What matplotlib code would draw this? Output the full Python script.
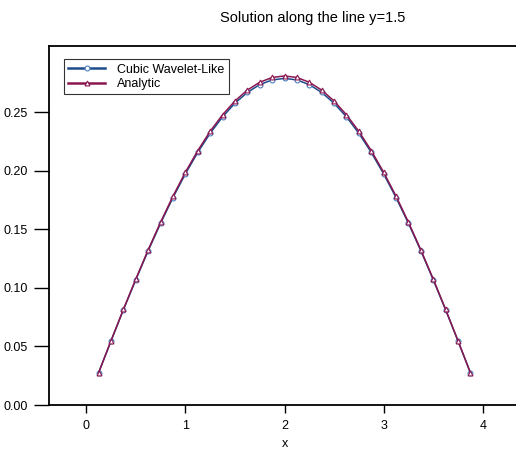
import matplotlib
matplotlib.use('Agg')
import matplotlib.pyplot as plt

plt.rcParams['font.family'] = ['Liberation Sans', 'DejaVu Sans']

# Sample points along the line y=1.5
x_vals = [0.125, 0.25, 0.375, 0.5, 0.625, 0.75, 0.875, 1.0, 1.125, 1.25, 1.375,
          1.5, 1.625, 1.75, 1.875, 2.0, 2.125, 2.25, 2.375, 2.5, 2.625, 2.75,
          2.875, 3.0, 3.125, 3.25, 3.375, 3.5, 3.625, 3.75, 3.875]

# Values (left half, mirrored about x=2)
analytic_half = [0.0275, 0.0548, 0.0816, 0.1075, 0.1325, 0.1561, 0.1783, 0.1987,
                 0.2172, 0.2337, 0.2478, 0.2596, 0.2689, 0.2756, 0.2797]
analytic_peak = 0.2810
wavelet_half = [0.0274, 0.0546, 0.0812, 0.1069, 0.1317, 0.1551, 0.1771, 0.1973,
                0.2157, 0.2320, 0.2460, 0.2577, 0.2669, 0.2736, 0.2776]
wavelet_peak = 0.2789

analytic = analytic_half + [analytic_peak] + analytic_half[::-1]
wavelet = wavelet_half + [wavelet_peak] + wavelet_half[::-1]

blue = '#1c4c8c'
purple = '#8a1650'

fig = plt.figure(figsize=(5.16, 4.5), dpi=100)
ax = fig.add_axes([49 / 516, (450 - 405) / 450, 472 / 516, 359.5 / 450])

ax.plot(x_vals, wavelet, color=blue, lw=1.1, marker='o', ms=3.5,
        mfc='white', mec='#4a7fc0', mew=0.8, label='Cubic Wavelet-Like')
ax.plot(x_vals, analytic, color=purple, lw=1.1, marker='^', ms=3.5,
        mfc='white', mec=purple, mew=0.8, label='Analytic')

ax.set_xlim(-0.375, 4.385)
ax.set_ylim(0.0, 0.307)
ax.set_xticks([0, 1, 2, 3, 4])
ax.set_yticks([0.0, 0.05, 0.10, 0.15, 0.20, 0.25])
ax.set_yticklabels(['0.00', '0.05', '0.10', '0.15', '0.20', '0.25'])
ax.tick_params(axis='both', labelsize=9, direction='out', width=1.0, colors='black')
ax.tick_params(axis='y', length=11, pad=4)
ax.tick_params(axis='x', length=6, pad=5)
ax.spines['right'].set_visible(False)
for s in ['left', 'top', 'bottom']:
    ax.spines[s].set_linewidth(1.3)
ax.set_xlabel('x', fontsize=9, labelpad=4)

leg = ax.legend(loc='upper left', bbox_to_anchor=(0.032, 0.962), fontsize=9,
                frameon=True, fancybox=False, edgecolor='black',
                handlelength=2.9, borderpad=0.35, labelspacing=0.2,
                handletextpad=1.0, borderaxespad=0)
leg.get_frame().set_linewidth(0.8)
for line in leg.get_lines():
    line.set_linewidth(1.8)

fig.text(313 / 516, 1 - 18 / 450, 'Solution along the line y=1.5', ha='center',
         va='center', fontsize=10.5)

fig.savefig('out.png', dpi=100)
